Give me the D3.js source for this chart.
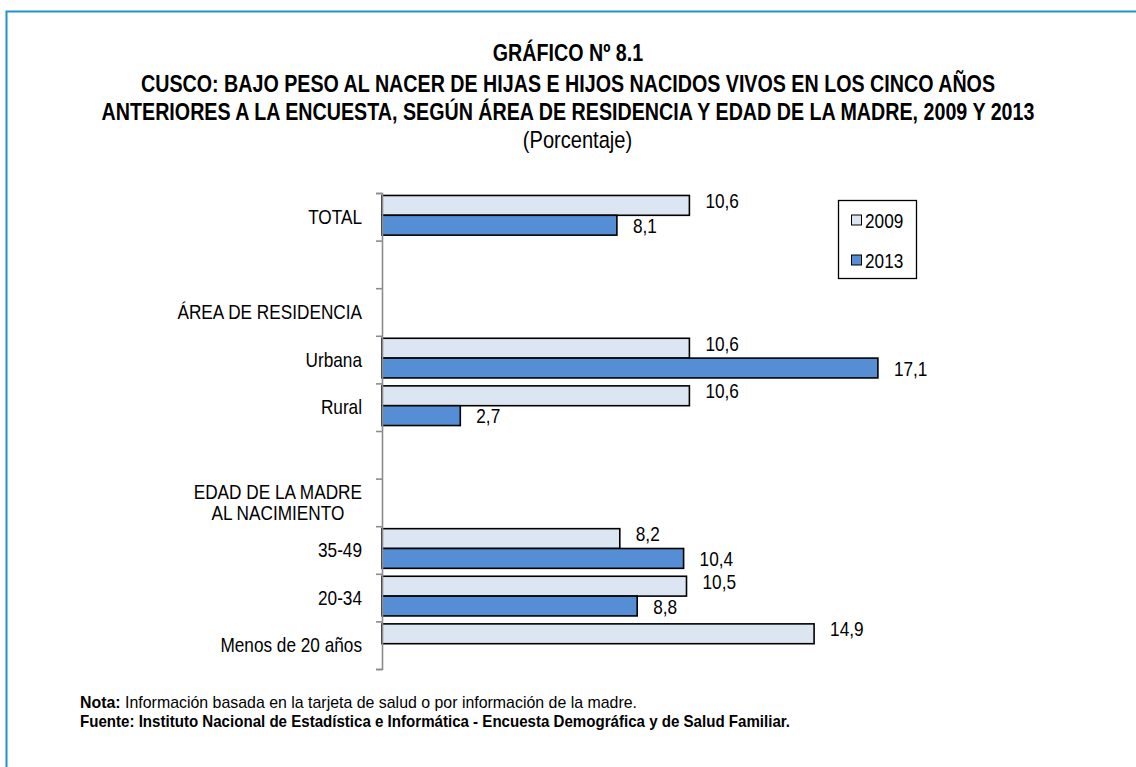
<!DOCTYPE html>
<html lang="es">
<head>
<meta charset="utf-8">
<script src="https://cdn.jsdelivr.net/npm/d3@7/dist/d3.min.js"></script>
<style>
  html, body { margin: 0; padding: 0; background: #ffffff; }
  svg { display: block; }
  text { font-family: "Liberation Sans", Arial, sans-serif; fill: #000; }
</style>
</head>
<body>
<svg id="chart" width="1136" height="767"></svg>
<script>
// Row labels, top to bottom (empty strings are spacer rows; "\n" splits a label over two lines)
const categories = [
  "TOTAL",
  "",
  "ÁREA DE RESIDENCIA",
  "Urbana",
  "Rural",
  "",
  "EDAD DE LA MADRE\nAL NACIMIENTO",
  "35-49",
  "20-34",
  "Menos de 20 años"
];

const seriesNames = ["2009", "2013"];

// Percentages per row (null = no bar)
const values2009 = [10.6, null, null, 10.6, 10.6, null, null, 8.2, 10.5, 14.9];
const values2013 = [8.1, null, null, 17.1, 2.7, null, null, 10.4, 8.8, null];

const titleLines = [
  "GRÁFICO Nº 8.1",
  "CUSCO: BAJO PESO AL NACER DE HIJAS E HIJOS NACIDOS VIVOS EN LOS CINCO AÑOS",
  "ANTERIORES A LA ENCUESTA, SEGÚN ÁREA DE RESIDENCIA Y EDAD DE LA MADRE, 2009 Y 2013"
];
const subtitle = "(Porcentaje)";
const notaLabel = "Nota:";
const notaText = " Información basada en la tarjeta de salud o por información de la madre.";
const fuenteText = "Fuente: Instituto Nacional de Estadística e Informática - Encuesta Demográfica y de Salud Familiar.";

// ---------------------------------------------------------------------------
const colors = { "2009": "#dce6f2", "2013": "#558ed5" };
const NARROW = 0.82;   // horizontal squeeze giving a condensed face
const svg = d3.select("#chart");
const W = 1136, H = 767;

// Condensed text: a group placed at (x, y) and squeezed horizontally
function ntext(parent, x, y, size, anchor, bold) {
  const g = parent.append("g").attr("transform", `translate(${x},${y}) scale(${NARROW},1)`);
  return g.append("text")
    .attr("font-size", size)
    .attr("text-anchor", anchor || "start")
    .attr("font-weight", bold ? "bold" : null);
}

// Outer frame (top and left rules)
svg.append("path")
  .attr("d", `M6.5,${H}V11.5H${W}`)
  .attr("fill", "none")
  .attr("stroke", "#2191c8")
  .attr("stroke-width", 2);

// Titles
const titleY = [61, 92, 120];
titleLines.forEach((t, i) => {
  ntext(svg, 568, titleY[i], 24, "middle", true).text(t);
});
ntext(svg, 577.5, 148, 24.5, "middle", false).text(subtitle);

// Scales
const plotTop = 193, plotBottom = 669, axisX = 382;
const x = d3.scaleLinear().domain([0, 20]).range([axisX, axisX + 580]);
const y = d3.scaleBand().domain(d3.range(categories.length)).range([plotTop, plotBottom]).padding(0);
const ySub = d3.scaleBand().domain(seriesNames).range([0, y.bandwidth()]).paddingInner(0).paddingOuter(0.2);

const rows = categories.map((c, i) => ({
  i, label: c,
  vals: [{ s: "2009", v: values2009[i] }, { s: "2013", v: values2013[i] }]
}));

const fmt = d3.formatLocale({ decimal: ",", thousands: ".", grouping: [3], currency: ["", ""] }).format(".1f");

// Bars
const barsG = svg.append("g");
const labelShift = { "2009": -5, "2013": 0 };
rows.forEach(r => {
  const top = y(r.i) - 1.5;
  r.vals.filter(d => d.v != null).forEach(d => {
    barsG.append("rect")
      .attr("x", x(0))
      .attr("y", top + ySub(d.s))
      .attr("width", x(d.v) - x(0))
      .attr("height", ySub.bandwidth())
      .attr("fill", colors[d.s])
      .attr("stroke", "#000")
      .attr("stroke-width", 1.6);
    // value label just past the bar end
    ntext(barsG, x(d.v) + 16, top + ySub(d.s) + ySub.bandwidth() / 2 + labelShift[d.s], 21, "start")
      .attr("dy", "0.36em")
      .text(fmt(d.v));
  });
});

// Category axis: ticks between rows
const yTicks = d3.scaleLinear().domain([0, categories.length]).range([plotTop, plotBottom]);
const axisG = svg.append("g")
  .attr("transform", `translate(${axisX},0)`)
  .call(d3.axisLeft(yTicks).ticks(categories.length).tickSize(6).tickSizeOuter(6).tickFormat(""));
axisG.selectAll("path, line").attr("stroke", "#8c8c8c").attr("stroke-width", 1.6);

// Category labels (multi-line labels are centred as a block, right-aligned to the axis gap)
const labelRight = 362;
const catG = svg.append("g");
rows.forEach(r => {
  if (!r.label) return;
  const lines = r.label.split("\n");
  const cy = y(r.i) + y.bandwidth() / 2;
  const lh = 21;
  const texts = lines.map((ln, k) =>
    ntext(catG, 0, cy + (k - (lines.length - 1) / 2) * lh, 21, "middle")
      .attr("dy", "0.34em")
      .text(ln));
  const maxW = d3.max(texts, t => t.node().getComputedTextLength()) * NARROW;
  texts.forEach(t => {
    const g = d3.select(t.node().parentNode);
    const ty = +g.attr("transform").match(/translate\([^,]+,([^)]+)\)/)[1];
    g.attr("transform", `translate(${labelRight - maxW / 2},${ty}) scale(${NARROW},1)`);
  });
});

// Legend
const leg = svg.append("g").attr("transform", "translate(838.5,200.5)");
leg.append("rect").attr("width", 78).attr("height", 78)
  .attr("fill", "#fff").attr("stroke", "#000").attr("stroke-width", 1.3);
seriesNames.forEach((s, k) => {
  const gy = 19.5 + k * 40;
  leg.append("rect").attr("x", 13).attr("y", gy - 5).attr("width", 10).attr("height", 10)
    .attr("fill", colors[s]).attr("stroke", "#000").attr("stroke-width", 1);
  ntext(leg, 26.5, gy, 21, "start").attr("dy", "0.36em").text(s);
});

// Notes
const nota = svg.append("text").attr("x", 80).attr("y", 708).attr("font-size", 17)
  .attr("textLength", 557).attr("lengthAdjust", "spacingAndGlyphs");
nota.append("tspan").attr("font-weight", "bold").text(notaLabel);
nota.append("tspan").text(notaText);
svg.append("text").attr("x", 80).attr("y", 727).attr("font-size", 17)
  .attr("font-weight", "bold")
  .attr("textLength", 710).attr("lengthAdjust", "spacingAndGlyphs")
  .text(fuenteText);
</script>
</body>
</html>
